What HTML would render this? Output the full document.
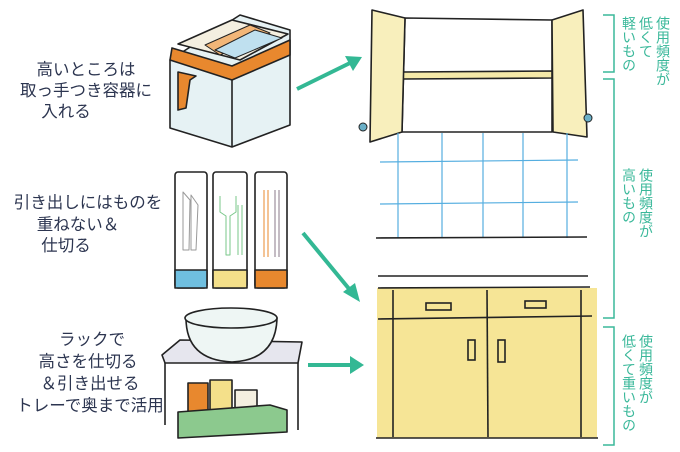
<!DOCTYPE html>
<html><head><meta charset="utf-8"><style>
html,body{margin:0;padding:0;background:#fff;}
svg{display:block;}
.t{font-family:"Liberation Sans","Noto Sans CJK JP",sans-serif;font-size:16.5px;fill:#2c3550;text-anchor:middle;}
.v{font-family:"Liberation Sans","Noto Sans CJK JP",sans-serif;font-size:14px;fill:#3ab89a;writing-mode:tb;glyph-orientation-vertical:0;}
</style></head><body>
<svg width="680" height="452" viewBox="0 0 680 452" xmlns="http://www.w3.org/2000/svg">
<text class="t" x="86" y="75">高いところは</text>
<text class="t" x="86" y="96">取っ手つき容器に</text>
<text class="t" x="66" y="117">入れる</text>
<text class="t" x="88" y="208">引き出しにはものを</text>
<text class="t" x="78" y="230">重ねない＆</text>
<text class="t" x="66" y="251">仕切る</text>
<text class="t" x="92" y="345">ラックで</text>
<text class="t" x="88" y="367">高さを仕切る</text>
<text class="t" x="90" y="389">＆引き出せる</text>
<text class="t" x="90" y="411">トレーで奥まで活用</text>

<g stroke="#222" stroke-width="1.6" stroke-linejoin="round" fill="none">
<polygon points="170,60 240,15 290,30 290,125 232,147 170,128" fill="#e6f2f4"/>
<polygon points="178,44 232,20 288,34 240,60" fill="#f4efe0"/>
<polygon points="205,45 250,25 270,33 220,55" fill="#f2b678" stroke-width="1"/>
<polygon points="215,50 255,30 282,38 235,58" fill="#bfe0ef" stroke-width="1"/>
<polygon points="170,60 232,80 290,55 290,40 232,66 172,48" fill="#e8882e"/>
<polygon points="178,72 196,76 190,80 186,108 178,110" fill="#e8882e"/>
<line x1="232" y1="80" x2="232" y2="147"/>
<rect x="175" y="172" width="32" height="116" rx="3" fill="#fff"/>
<rect x="175" y="270" width="32" height="18" fill="#6fbfe0"/>
<rect x="213" y="172" width="34" height="116" rx="3" fill="#fff"/>
<rect x="213" y="270" width="34" height="18" fill="#f4e08a"/>
<rect x="255" y="172" width="32" height="116" rx="3" fill="#fff"/>
<rect x="255" y="270" width="32" height="18" fill="#e8882e"/>
<g stroke="#999" stroke-width="1"><path d="M183,192 L183,250 L189,250 L190,200 Z M191,195 L191,250 L196,250 L198,205 Z"/></g>
<g stroke="#7ac78a" stroke-width="1"><path d="M220,196 L220,212 L226,216 L226,255 L230,255 L230,216 L236,212 L236,196 M238,205 L238,255 M242,205 L242,255"/></g>
<g stroke-width="1"><path d="M264,190 L264,257 M268,190 L268,257" stroke="#e8882e"/><path d="M275,190 L275,257 M279,190 L279,257" stroke="#8a7a8a"/></g>
<polygon points="162,355 180,340 302,342 298,363 165,363" fill="#e6e6ee"/>
<path d="M186,318 Q186,360 232,362 Q276,360 277,318 Z" fill="#eef6f4"/>
<ellipse cx="231" cy="318" rx="46" ry="10" fill="#eef6f4"/>
<rect x="188" y="383" width="20" height="30" fill="#e8882e"/>
<rect x="210" y="380" width="22" height="32" fill="#f4e08a"/>
<rect x="235" y="390" width="22" height="22" fill="#f4efe0"/>
<polygon points="178,412 270,405 287,410 287,432 178,438" fill="#8cc98e"/>
<path d="M165,363 L165,425 M298,363 L298,430"/>
<polygon points="405,18 552,20 552,132 402,132" fill="#fff"/>
<polygon points="403,72 552,71 552,78 403,79" fill="#f5e9a8"/>
<polygon points="372,10 405,18 402,132 370,142" fill="#f8efbc"/>
<polygon points="552,20 583,10 587,137 553,132" fill="#f8efbc"/>
</g>
<circle cx="363" cy="127" r="4" fill="#6ab0c8" stroke="#222" stroke-width="1"/>
<circle cx="588" cy="118" r="4" fill="#6ab0c8" stroke="#222" stroke-width="1"/>
<g stroke="#55aee0" stroke-width="1.2">
<line x1="398" y1="133" x2="398" y2="238"/><line x1="442" y1="133" x2="442" y2="238"/><line x1="483" y1="133" x2="483" y2="238"/><line x1="523" y1="133" x2="523" y2="238"/><line x1="567" y1="133" x2="567" y2="238"/>
<line x1="380" y1="162" x2="578" y2="160"/><line x1="380" y1="204" x2="578" y2="202"/>
</g>
<g stroke="#222" stroke-width="1.6" fill="none">
<line x1="376" y1="238" x2="587" y2="237"/>
<line x1="378" y1="276" x2="588" y2="276"/>
<rect x="377" y="288" width="220" height="150" fill="#f6e596" stroke="none"/>
<line x1="378" y1="288" x2="590" y2="287"/>
<line x1="393" y1="290" x2="393" y2="437"/><line x1="487" y1="290" x2="488" y2="437"/><line x1="581" y1="290" x2="581" y2="437"/>
<line x1="378" y1="319" x2="592" y2="316"/>
<line x1="376" y1="438" x2="598" y2="438"/>
<rect x="426" y="303" width="25" height="7"/><rect x="525" y="301" width="21" height="7"/>
<rect x="468" y="340" width="7" height="20"/><rect x="498" y="340" width="7" height="22"/>
</g>
<g stroke="#33b894" stroke-width="4" fill="#33b894">
<line x1="297" y1="89" x2="350" y2="63"/><polygon points="362,57 345,56 353,71" stroke="none"/>
<line x1="303" y1="233" x2="350" y2="290"/><polygon points="360,302 343,292 355,283" stroke="none"/>
<line x1="308" y1="365" x2="350" y2="365"/><polygon points="364,365 350,356 350,374" stroke="none"/>
</g>
<g stroke="#3ab89a" stroke-width="1.5" fill="none">
<path d="M603,15 H614 V72 H603"/>
<path d="M603,79 H614 V318 H603"/>
<path d="M603,327 H614 V445 H603"/>
</g>
<text class="v" x="663" y="16">使用頻度が</text>
<text class="v" x="646" y="16">低くて</text>
<text class="v" x="629" y="16">軽いもの</text>
<text class="v" x="646" y="168">使用頻度が</text>
<text class="v" x="629" y="168">高いもの</text>
<text class="v" x="646" y="334">使用頻度が</text>
<text class="v" x="629" y="334">低くて重いもの</text>
</svg>
</body></html>
